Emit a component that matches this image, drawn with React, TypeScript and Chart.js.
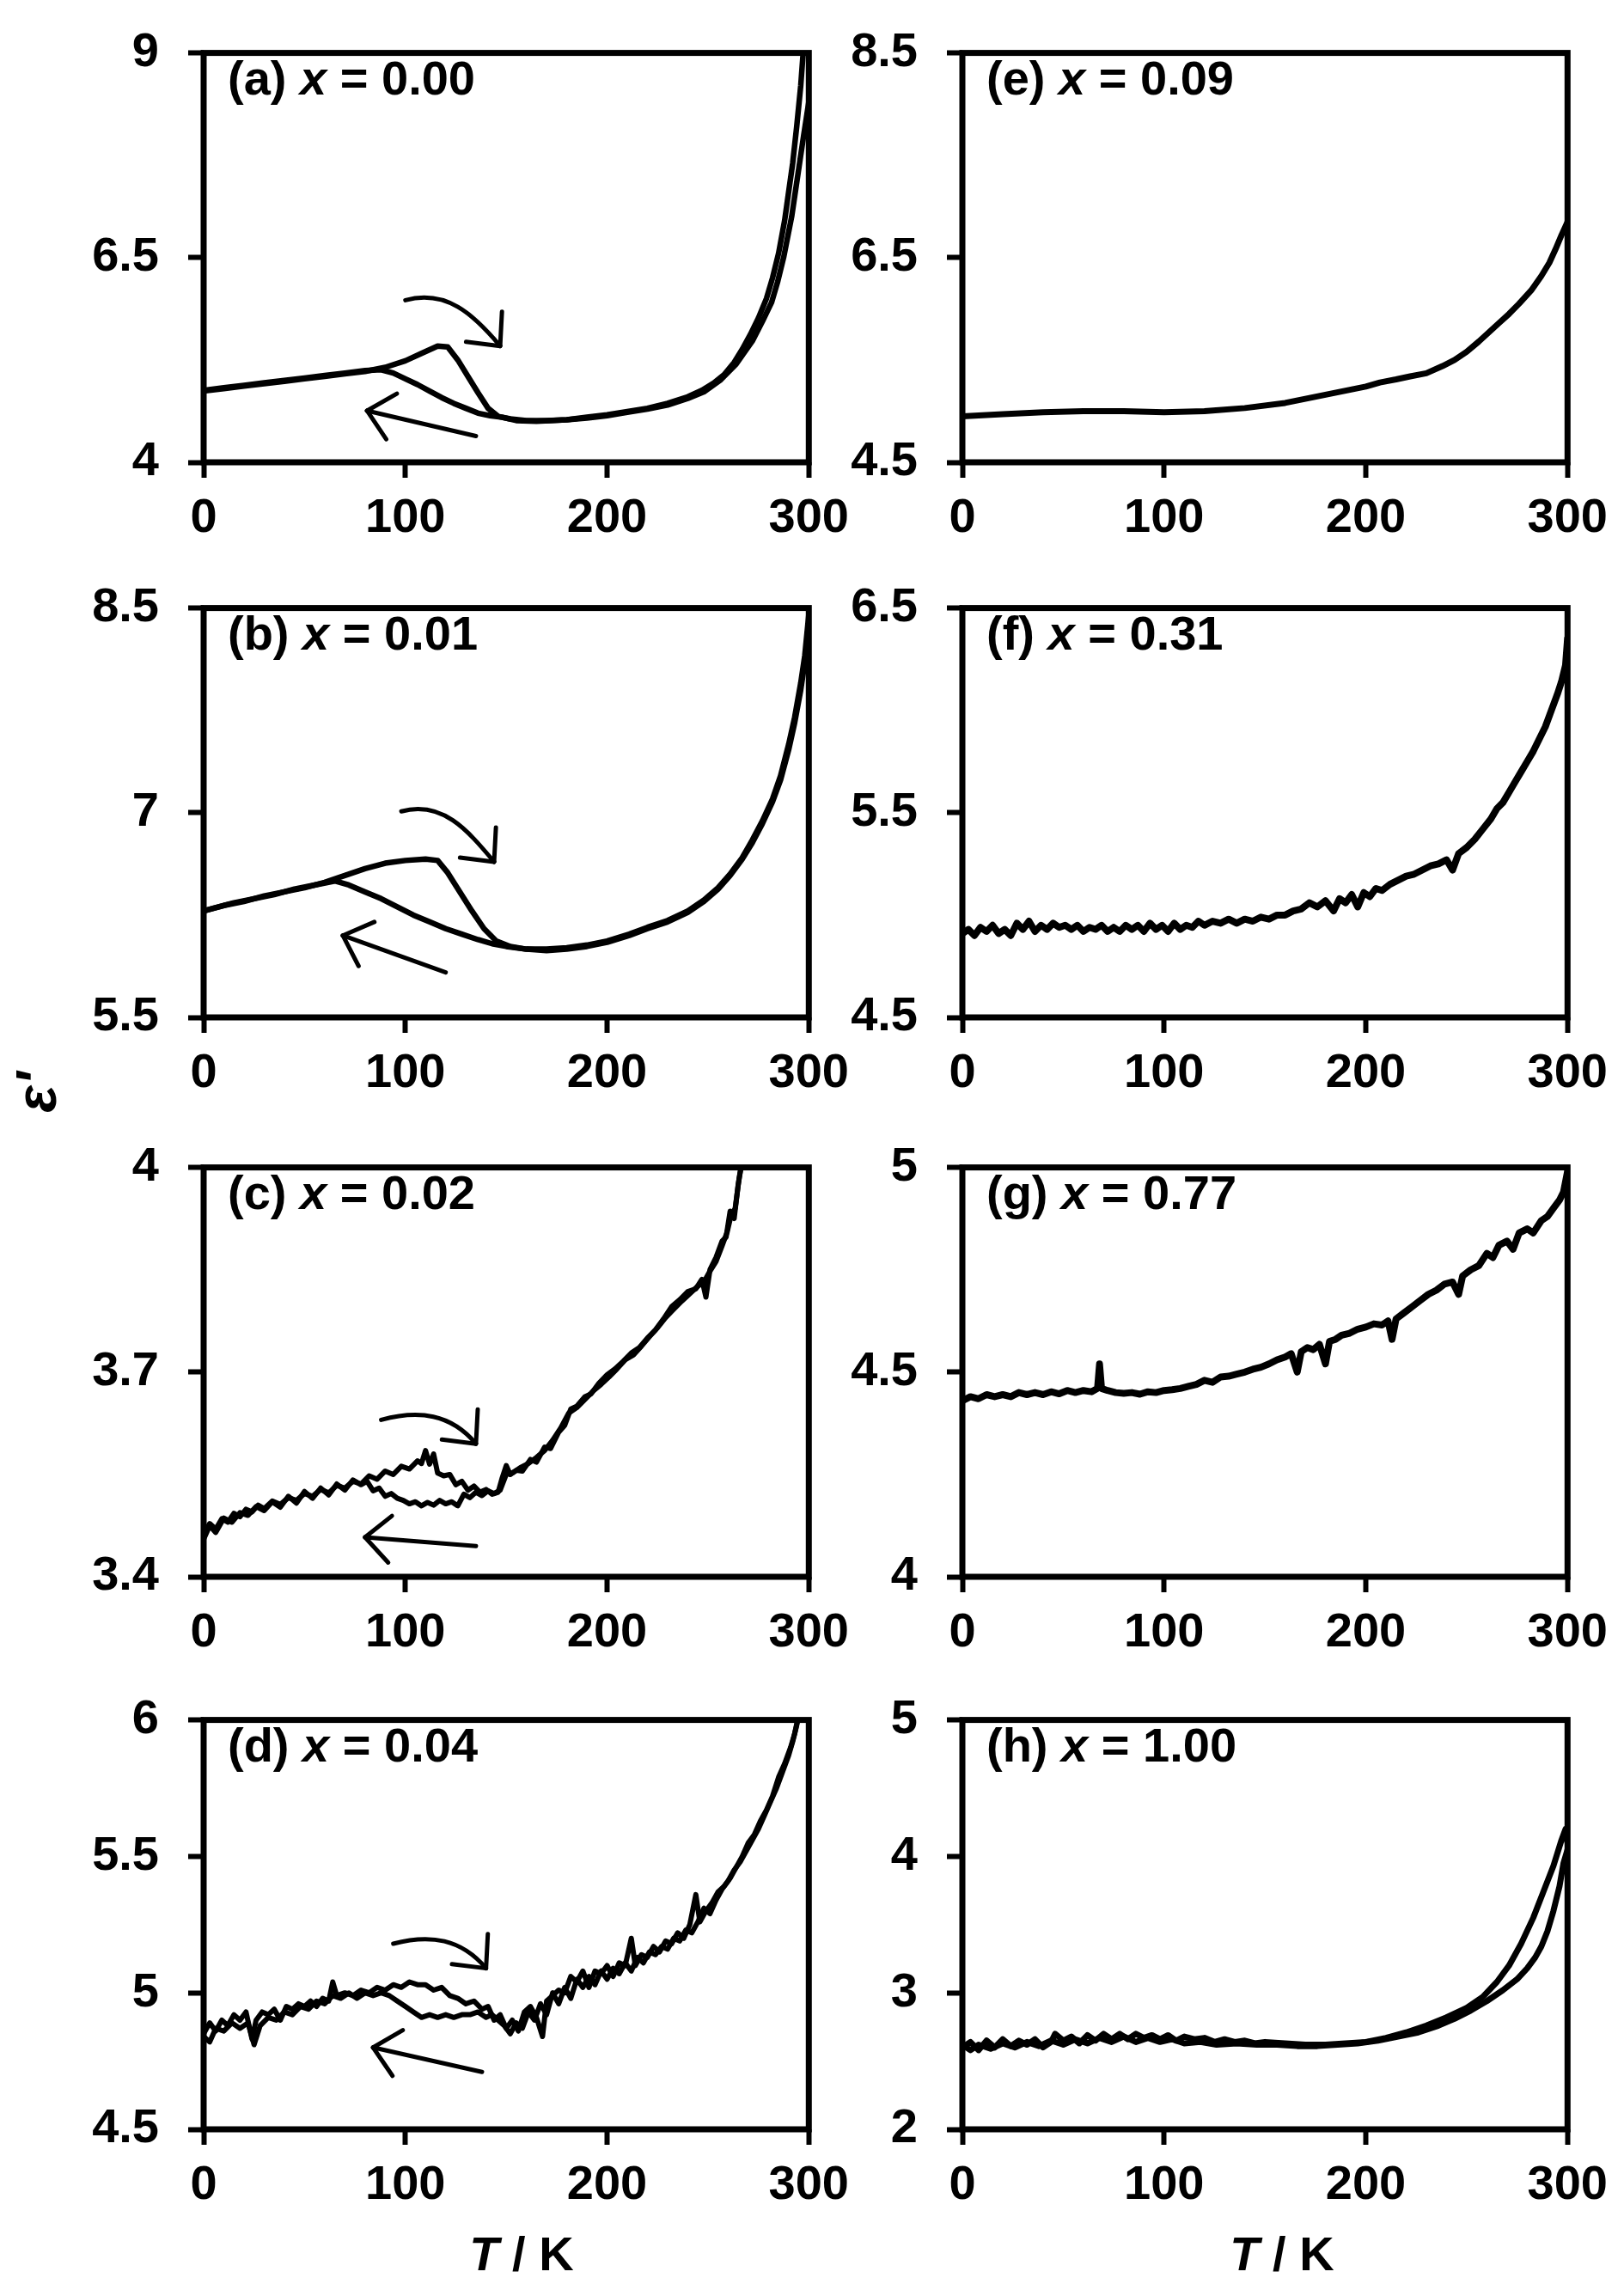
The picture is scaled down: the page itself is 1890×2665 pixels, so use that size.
import React, { useEffect, useRef } from "react";
import { Chart, registerables } from "chart.js";

Chart.register(...registerables);

type Pt = [number, number];

// ---------------- tick labels ----------------
const tempTicks = [0, 100, 200, 300];
const aTicks = [4, 6.5, 9];
const bTicks = [5.5, 7, 8.5];
const cTicks = [3.4, 3.7, 4];
const dTicks = [4.5, 5, 5.5, 6];
const eTicks = [4.5, 6.5, 8.5];
const fTicks = [4.5, 5.5, 6.5];
const gTicks = [4, 4.5, 5];
const hTicks = [2, 3, 4, 5];

// ---------------- series: [T / K, eps'] ----------------
const aHeat: Pt[] = [
  [0, 4.87], [10, 4.9], [20, 4.93], [30, 4.96], [40, 4.99], [50, 5.02], [60, 5.05], [70, 5.08], [80, 5.11],
  [90, 5.16], [100, 5.24], [108, 5.33], [116, 5.42], [121, 5.41], [126, 5.25], [131, 5.05], [136, 4.85],
  [141, 4.66], [146, 4.56], [152, 4.53], [160, 4.51], [170, 4.51], [180, 4.52], [190, 4.55], [200, 4.58],
  [210, 4.62], [220, 4.66], [230, 4.72], [240, 4.8], [247, 4.88], [253, 4.97], [258, 5.07], [263, 5.22],
  [267, 5.38], [271, 5.56], [275, 5.76], [279, 6.0], [282, 6.25], [285, 6.55], [288, 6.95], [290, 7.3],
  [292, 7.65], [294, 8.1], [296, 8.6], [297.5, 9.1],
];
const aCool: Pt[] = [
  [300, 8.4], [297.5, 8.0], [294.5, 7.5], [291.5, 7.0], [287.5, 6.5], [284.5, 6.2], [281.5, 5.95], [277, 5.72],
  [272, 5.48], [264, 5.2], [256, 5.0], [248, 4.86], [240, 4.78], [230, 4.7], [220, 4.65], [210, 4.61],
  [200, 4.57], [190, 4.54], [180, 4.52], [165, 4.5], [155, 4.51], [148, 4.55], [142, 4.57], [136, 4.6],
  [130, 4.66], [124, 4.72], [118, 4.79], [112, 4.87], [106, 4.95], [100, 5.02], [94, 5.09], [88, 5.13],
  [80, 5.12], [70, 5.09], [60, 5.06], [50, 5.03], [40, 5.0], [30, 4.97], [20, 4.94], [10, 4.91], [0, 4.88],
];

const bHeat: Pt[] = [
  [0, 6.28], [10, 6.32], [20, 6.35], [30, 6.39], [40, 6.42], [50, 6.45], [60, 6.49], [70, 6.54], [80, 6.59],
  [90, 6.63], [100, 6.65], [110, 6.66], [116, 6.65], [121, 6.56], [127, 6.42], [133, 6.28], [139, 6.15],
  [145, 6.06], [152, 6.02], [160, 6.0], [170, 5.99], [180, 6.0], [190, 6.02], [200, 6.05], [211, 6.1],
  [220, 6.15], [230, 6.2], [240, 6.27], [248, 6.35], [255, 6.44], [261, 6.54], [267, 6.66], [272, 6.78],
  [277, 6.92], [282, 7.08], [286, 7.24], [290, 7.46], [293, 7.66], [296, 7.9], [298, 8.1], [300, 8.35],
];
const bCool: Pt[] = [
  [300, 8.45], [298, 8.15], [296, 7.95], [293, 7.7], [290, 7.5], [286, 7.27], [282, 7.1], [277, 6.94],
  [272, 6.8], [267, 6.67], [261, 6.55], [255, 6.45], [248, 6.36], [240, 6.28], [230, 6.21], [220, 6.16],
  [211, 6.11], [200, 6.06], [190, 6.03], [180, 6.01], [170, 6.0], [160, 6.0], [150, 6.02], [143, 6.04],
  [136, 6.07], [128, 6.11], [120, 6.15], [112, 6.2], [104, 6.25], [96, 6.31], [88, 6.37], [80, 6.42],
  [72, 6.47], [65, 6.5], [55, 6.47], [45, 6.44], [35, 6.4], [25, 6.37], [15, 6.34], [5, 6.3], [0, 6.28],
];

const cHeat: Pt[] = [
  [0, 3.462], [3, 3.478], [6, 3.47], [9, 3.485], [12, 3.48], [15, 3.493], [18, 3.488], [21, 3.499], [24, 3.495],
  [27, 3.505], [30, 3.5], [34, 3.511], [38, 3.506], [42, 3.516], [46, 3.512], [50, 3.522], [54, 3.518],
  [58, 3.528], [62, 3.523], [66, 3.534], [70, 3.53], [74, 3.54], [78, 3.536], [82, 3.548], [86, 3.543],
  [90, 3.555], [94, 3.55], [98, 3.562], [102, 3.558], [106, 3.57], [108, 3.566], [110, 3.585], [112, 3.565],
  [114, 3.58], [116, 3.552], [119, 3.548], [122, 3.55], [125, 3.535], [128, 3.54], [131, 3.527], [134, 3.533],
  [137, 3.524], [140, 3.528], [143, 3.521], [146, 3.524], [148, 3.545], [150, 3.563], [152, 3.55], [155, 3.556],
  [158, 3.555], [162, 3.572], [165, 3.568], [169, 3.59], [172, 3.588], [176, 3.612], [179, 3.622], [182, 3.646],
  [185, 3.65], [189, 3.664], [192, 3.668], [196, 3.684], [200, 3.696], [204, 3.705], [208, 3.716], [212, 3.728],
  [216, 3.736], [220, 3.75], [224, 3.762], [228, 3.778], [232, 3.796], [236, 3.806], [240, 3.818], [244, 3.822],
  [247, 3.836], [249, 3.81], [251, 3.85], [254, 3.868], [257, 3.892], [259, 3.898], [261, 3.936], [263, 3.925],
  [265, 3.975], [267, 4.01],
];
const cCool: Pt[] = [
  [267.5, 4.02], [265.5, 3.985], [263.5, 3.94], [261.5, 3.93], [259.5, 3.905], [257, 3.885], [254, 3.862],
  [251, 3.848], [248, 3.832], [245, 3.826], [241, 3.815], [237, 3.804], [233, 3.792], [229, 3.78], [225, 3.765],
  [221, 3.752], [217, 3.738], [213, 3.725], [209, 3.718], [205, 3.705], [201, 3.693], [197, 3.682], [193, 3.672],
  [189, 3.66], [185, 3.648], [181, 3.64], [177, 3.618], [173, 3.6], [169, 3.585], [165, 3.575], [161, 3.566],
  [157, 3.56], [153, 3.552], [150, 3.55], [147, 3.527], [144, 3.522], [141, 3.526], [138, 3.519], [135, 3.524],
  [132, 3.516], [129, 3.521], [126, 3.504], [123, 3.51], [120, 3.507], [117, 3.512], [114, 3.505], [111, 3.509],
  [108, 3.504], [105, 3.51], [102, 3.507], [99, 3.512], [96, 3.515], [93, 3.522], [90, 3.518], [87, 3.53],
  [84, 3.526], [81, 3.54], [78, 3.535], [74, 3.542], [70, 3.527], [66, 3.536], [62, 3.52], [58, 3.53],
  [54, 3.515], [50, 3.525], [46, 3.508], [42, 3.518], [38, 3.502], [34, 3.51], [30, 3.497], [26, 3.503],
  [22, 3.49], [18, 3.494], [14, 3.48], [10, 3.486], [6, 3.465], [3, 3.475], [0, 3.455],
];

const dHeat: Pt[] = [
  [0, 4.85], [3, 4.89], [6, 4.86], [9, 4.9], [12, 4.88], [15, 4.92], [18, 4.9], [21, 4.93], [24, 4.83], [26, 4.9],
  [29, 4.93], [32, 4.92], [35, 4.94], [38, 4.9], [41, 4.95], [44, 4.94], [47, 4.96], [50, 4.95], [53, 4.97],
  [56, 4.95], [59, 4.98], [62, 4.97], [64, 5.04], [66, 4.99], [70, 5.0], [74, 4.99], [78, 5.01], [82, 5.0],
  [86, 5.02], [90, 5.01], [94, 5.03], [98, 5.02], [102, 5.04], [106, 5.03], [110, 5.03], [114, 5.01], [118, 5.02],
  [122, 4.99], [126, 4.98], [130, 4.96], [134, 4.97], [138, 4.94], [141, 4.95], [144, 4.9], [147, 4.92],
  [150, 4.87], [153, 4.9], [156, 4.86], [159, 4.93], [162, 4.95], [165, 4.91], [168, 4.84], [170, 4.97],
  [173, 4.99], [176, 5.01], [179, 5.0], [182, 5.06], [185, 5.04], [188, 5.08], [191, 5.02], [194, 5.08],
  [197, 5.07], [200, 5.1], [203, 5.06], [206, 5.11], [209, 5.1], [212, 5.2], [214, 5.1], [217, 5.14], [220, 5.13],
  [223, 5.17], [226, 5.15], [229, 5.19], [232, 5.18], [235, 5.22], [238, 5.2], [241, 5.25], [244, 5.36],
  [246, 5.26], [249, 5.3], [252, 5.33], [255, 5.37], [258, 5.39], [261, 5.42], [264, 5.46], [267, 5.5],
  [270, 5.55], [273, 5.58], [276, 5.63], [279, 5.67], [282, 5.72], [285, 5.79], [288, 5.84], [291, 5.9],
  [293, 5.95], [295, 6.02],
];
const dCool: Pt[] = [
  [296, 6.05], [294, 5.98], [292, 5.92], [290, 5.87], [287, 5.81], [284, 5.75], [281, 5.7], [278, 5.65],
  [275, 5.6], [272, 5.56], [269, 5.52], [266, 5.48], [263, 5.45], [260, 5.41], [257, 5.38], [254, 5.34],
  [251, 5.29], [248, 5.31], [245, 5.26], [242, 5.22], [239, 5.23], [236, 5.19], [233, 5.2], [230, 5.16],
  [227, 5.17], [224, 5.14], [221, 5.15], [218, 5.11], [215, 5.13], [212, 5.08], [209, 5.11], [206, 5.07],
  [203, 5.09], [200, 5.05], [197, 5.08], [194, 5.03], [191, 5.06], [188, 5.02], [185, 5.05], [182, 4.98],
  [179, 5.02], [176, 4.96], [173, 5.0], [170, 4.92], [167, 4.96], [164, 4.9], [161, 4.93], [158, 4.87],
  [155, 4.89], [152, 4.85], [149, 4.88], [146, 4.9], [143, 4.92], [140, 4.91], [136, 4.93], [132, 4.92],
  [128, 4.92], [124, 4.91], [120, 4.92], [116, 4.91], [112, 4.92], [108, 4.91], [104, 4.93], [100, 4.95],
  [96, 4.97], [92, 4.99], [88, 5.0], [84, 4.99], [80, 5.0], [76, 4.98], [72, 5.0], [68, 4.98], [64, 4.99],
  [60, 4.96], [56, 4.97], [52, 4.94], [48, 4.95], [44, 4.92], [40, 4.93], [36, 4.9], [32, 4.91], [28, 4.88],
  [25, 4.81], [22, 4.89], [18, 4.87], [14, 4.89], [10, 4.86], [6, 4.87], [3, 4.82], [0, 4.84],
];

const eRun: Pt[] = [
  [0, 4.95], [20, 4.97], [40, 4.99], [60, 5.0], [80, 5.0], [100, 4.99], [120, 5.0], [140, 5.03], [160, 5.08],
  [180, 5.16], [200, 5.24], [207, 5.28], [215, 5.31], [222, 5.34], [230, 5.37], [238, 5.44], [244, 5.5],
  [250, 5.58], [256, 5.68], [261, 5.77], [266, 5.86], [271, 5.95], [276, 6.05], [282, 6.18], [287, 6.32],
  [291, 6.45], [294, 6.58], [297, 6.72], [300, 6.85],
];

const fRun: Pt[] = [
  [0, 4.91], [3, 4.93], [6, 4.9], [9, 4.94], [12, 4.92], [15, 4.95], [18, 4.91], [21, 4.93], [24, 4.9], [27, 4.96],
  [30, 4.93], [33, 4.97], [36, 4.92], [39, 4.95], [42, 4.93], [45, 4.96], [48, 4.94], [51, 4.95], [54, 4.93],
  [57, 4.95], [60, 4.92], [63, 4.94], [66, 4.93], [69, 4.95], [72, 4.92], [75, 4.94], [78, 4.92], [81, 4.95],
  [84, 4.93], [87, 4.95], [90, 4.92], [93, 4.96], [96, 4.93], [99, 4.95], [102, 4.92], [105, 4.96], [108, 4.93],
  [111, 4.95], [114, 4.94], [117, 4.97], [120, 4.95], [124, 4.97], [128, 4.96], [132, 4.98], [136, 4.96],
  [140, 4.98], [144, 4.97], [148, 4.99], [152, 4.98], [156, 5.0], [160, 5.0], [164, 5.02], [168, 5.03],
  [172, 5.06], [176, 5.04], [180, 5.07], [184, 5.02], [187, 5.08], [190, 5.06], [193, 5.1], [196, 5.04],
  [199, 5.11], [202, 5.09], [205, 5.13], [208, 5.12], [212, 5.15], [216, 5.17], [220, 5.19], [224, 5.2],
  [228, 5.22], [232, 5.24], [236, 5.25], [240, 5.27], [243, 5.22], [246, 5.3], [250, 5.33], [254, 5.37],
  [258, 5.42], [262, 5.47], [265, 5.52], [268, 5.55], [271, 5.6], [274, 5.65], [277, 5.7], [280, 5.75],
  [283, 5.8], [286, 5.86], [289, 5.92], [292, 6.0], [295, 6.08], [297, 6.14], [299, 6.22], [300, 6.35],
];

const gRun: Pt[] = [
  [0, 4.43], [4, 4.44], [8, 4.435], [12, 4.445], [16, 4.44], [20, 4.445], [24, 4.44], [28, 4.45], [32, 4.445],
  [36, 4.45], [40, 4.445], [44, 4.452], [48, 4.447], [52, 4.455], [56, 4.45], [60, 4.455], [64, 4.452],
  [67, 4.46], [68, 4.52], [69, 4.46], [72, 4.455], [76, 4.45], [80, 4.448], [84, 4.45], [88, 4.446],
  [92, 4.452], [96, 4.45], [100, 4.455], [104, 4.457], [108, 4.46], [112, 4.465], [116, 4.47], [120, 4.48],
  [124, 4.475], [128, 4.488], [132, 4.49], [136, 4.495], [140, 4.5], [144, 4.507], [148, 4.512], [152, 4.52],
  [156, 4.53], [160, 4.537], [163, 4.545], [166, 4.5], [168, 4.55], [171, 4.56], [174, 4.555], [177, 4.568],
  [180, 4.52], [182, 4.575], [185, 4.58], [188, 4.59], [192, 4.595], [196, 4.605], [200, 4.61], [204, 4.618],
  [208, 4.615], [211, 4.625], [213, 4.58], [215, 4.63], [219, 4.645], [223, 4.66], [227, 4.675], [231, 4.69],
  [235, 4.7], [239, 4.715], [243, 4.72], [246, 4.69], [248, 4.735], [252, 4.75], [256, 4.76], [260, 4.79],
  [263, 4.78], [266, 4.81], [270, 4.82], [273, 4.8], [276, 4.84], [280, 4.85], [283, 4.84], [287, 4.87],
  [290, 4.88], [293, 4.9], [296, 4.92], [298, 4.94], [300, 4.99],
];

const hHeat: Pt[] = [
  [0, 2.6], [4, 2.64], [8, 2.58], [12, 2.65], [16, 2.6], [20, 2.66], [24, 2.61], [28, 2.65], [32, 2.62],
  [36, 2.66], [40, 2.6], [44, 2.64], [46, 2.7], [50, 2.65], [54, 2.68], [58, 2.63], [62, 2.69], [66, 2.65],
  [70, 2.7], [74, 2.66], [78, 2.7], [82, 2.66], [86, 2.7], [90, 2.67], [94, 2.69], [98, 2.66], [102, 2.69],
  [106, 2.65], [110, 2.68], [115, 2.66], [120, 2.67], [125, 2.64], [130, 2.66], [135, 2.64], [140, 2.65],
  [145, 2.63], [150, 2.64], [160, 2.63], [170, 2.62], [180, 2.62], [190, 2.63], [200, 2.64], [210, 2.67],
  [220, 2.71], [230, 2.76], [240, 2.82], [250, 2.89], [258, 2.97], [265, 3.08], [271, 3.2], [277, 3.36],
  [283, 3.55], [288, 3.74], [293, 3.93], [297, 4.12], [299, 4.2], [300, 4.1],
];
const hCool: Pt[] = [
  [300, 4.05], [298, 3.95], [296, 3.78], [293, 3.6], [290, 3.45], [287, 3.34], [284, 3.26], [280, 3.18],
  [275, 3.1], [268, 3.02], [260, 2.94], [252, 2.87], [244, 2.81], [236, 2.76], [226, 2.71], [216, 2.68],
  [206, 2.65], [196, 2.63], [186, 2.62], [176, 2.61], [166, 2.61], [156, 2.62], [146, 2.62], [136, 2.63],
  [126, 2.62], [118, 2.64], [110, 2.63], [104, 2.66], [98, 2.64], [92, 2.67], [86, 2.64], [80, 2.68],
  [74, 2.64], [68, 2.67], [62, 2.63], [56, 2.66], [50, 2.62], [44, 2.65], [38, 2.61], [32, 2.64], [26, 2.6],
  [20, 2.63], [14, 2.59], [8, 2.62], [4, 2.58], [0, 2.62],
];

// ---------------- hysteresis arrows: [from, to] in data units ----------------
const aTurnArrow: Pt[] = [[100, 5.98], [147, 5.42]];
const aBackArrow: Pt[] = [[135, 4.32], [81, 4.63]];
const bTurnArrow: Pt[] = [[98, 7.01], [144, 6.64]];
const bBackArrow: Pt[] = [[120, 5.83], [69, 6.1]];
const cTurnArrow: Pt[] = [[88, 3.63], [135, 3.595]];
const cBackArrow: Pt[] = [[135, 3.445], [80, 3.458]];
const dTurnArrow: Pt[] = [[94, 5.18], [140, 5.09]];
const dBackArrow: Pt[] = [[138, 4.71], [84, 4.8]];

// ---------------- layout ----------------
const FONT = "'Liberation Sans', Arial, Helvetica, sans-serif";
const FONT_SIZE = 56;
const COL_LEFT = [237, 1120];
const ROW_TOP = [34, 680, 1331, 1974];
const PLOT_W = 705;
const PLOT_H = 504;
const AX_W = 150;
const PAD_T = 40;
const PAD_R = 60;
const AX_H = 130;
const CW = AX_W + PLOT_W + PAD_R;
const CH = PAD_T + PLOT_H + AX_H;

interface PanelSpec {
  tag: string;
  xval: string;
  col: number;
  row: number;
  yMin: number;
  yMax: number;
  yTicks: number[];
  series: Pt[][];
  lw: number;
  turn?: Pt[];
  back?: Pt[];
}

const panels: PanelSpec[] = [
  { tag: "(a)", xval: "0.00", col: 0, row: 0, yMin: 4, yMax: 9, yTicks: aTicks, series: [aHeat, aCool], lw: 6.5, turn: aTurnArrow, back: aBackArrow },
  { tag: "(b)", xval: "0.01", col: 0, row: 1, yMin: 5.5, yMax: 8.5, yTicks: bTicks, series: [bHeat, bCool], lw: 6.5, turn: bTurnArrow, back: bBackArrow },
  { tag: "(c)", xval: "0.02", col: 0, row: 2, yMin: 3.4, yMax: 4, yTicks: cTicks, series: [cHeat, cCool], lw: 6, turn: cTurnArrow, back: cBackArrow },
  { tag: "(d)", xval: "0.04", col: 0, row: 3, yMin: 4.5, yMax: 6, yTicks: dTicks, series: [dHeat, dCool], lw: 6, turn: dTurnArrow, back: dBackArrow },
  { tag: "(e)", xval: "0.09", col: 1, row: 0, yMin: 4.5, yMax: 8.5, yTicks: eTicks, series: [eRun], lw: 7 },
  { tag: "(f)", xval: "0.31", col: 1, row: 1, yMin: 4.5, yMax: 6.5, yTicks: fTicks, series: [fRun], lw: 8 },
  { tag: "(g)", xval: "0.77", col: 1, row: 2, yMin: 4, yMax: 5, yTicks: gTicks, series: [gRun], lw: 8 },
  { tag: "(h)", xval: "1.00", col: 1, row: 3, yMin: 2, yMax: 5, yTicks: hTicks, series: [hHeat, hCool], lw: 7 },
];

const framePlugin = {
  id: "frame",
  afterDatasetsDraw(chart: any) {
    const { ctx, chartArea } = chart;
    ctx.save();
    ctx.strokeStyle = "#000";
    ctx.lineWidth = 7;
    ctx.strokeRect(chartArea.left, chartArea.top, chartArea.right - chartArea.left, chartArea.bottom - chartArea.top);
    ctx.restore();
  },
};

function drawHead(ctx: CanvasRenderingContext2D, x: number, y: number, ang: number, len: number) {
  for (const s of [-1, 1]) {
    const a = ang + Math.PI + s * 0.75;
    ctx.beginPath();
    ctx.moveTo(x, y);
    ctx.lineTo(x + len * Math.cos(a), y + len * Math.sin(a));
    ctx.stroke();
  }
}

function makeArrowPlugin(p: PanelSpec) {
  return {
    id: "hysteresisArrows",
    afterDatasetsDraw(chart: any) {
      if (!p.turn && !p.back) return;
      const xs = chart.scales.x;
      const ys = chart.scales.y;
      const px = (q: Pt) => [xs.getPixelForValue(q[0]), ys.getPixelForValue(q[1])];
      const ctx: CanvasRenderingContext2D = chart.ctx;
      ctx.save();
      ctx.strokeStyle = "#000";
      ctx.lineWidth = 5;
      ctx.lineCap = "round";
      ctx.lineJoin = "round";
      if (p.turn) {
        const [sx, sy] = px(p.turn[0]);
        const [ex, ey] = px(p.turn[1]);
        const L = Math.hypot(ex - sx, ey - sy);
        const a0 = (-15 * Math.PI) / 180;
        const a1 = (50 * Math.PI) / 180;
        ctx.beginPath();
        ctx.moveTo(sx, sy);
        ctx.bezierCurveTo(
          sx + 0.4 * L * Math.cos(a0), sy + 0.4 * L * Math.sin(a0),
          ex - 0.4 * L * Math.cos(a1), ey - 0.4 * L * Math.sin(a1),
          ex, ey
        );
        ctx.stroke();
        drawHead(ctx, ex, ey, a1, 40);
      }
      if (p.back) {
        const [tx, ty] = px(p.back[0]);
        const [hx, hy] = px(p.back[1]);
        ctx.beginPath();
        ctx.moveTo(tx, ty);
        ctx.lineTo(hx, hy);
        ctx.stroke();
        drawHead(ctx, hx, hy, Math.atan2(hy - ty, hx - tx), 40);
      }
      ctx.restore();
    },
  };
}

function Panel({ p }: { p: PanelSpec }) {
  const ref = useRef<HTMLCanvasElement | null>(null);
  useEffect(() => {
    if (!ref.current) return;
    const tickFont = { family: FONT, size: FONT_SIZE, weight: "bold" as const };
    const chart = new Chart(ref.current, {
      type: "line",
      data: {
        datasets: p.series.map((s) => ({
          data: s.map(([x, y]) => ({ x, y })),
          borderColor: "#000",
          borderWidth: p.lw,
          pointRadius: 0,
          tension: 0,
          fill: false,
          borderJoinStyle: "round" as const,
          borderCapStyle: "round" as const,
        })),
      },
      options: {
        animation: false,
        responsive: false,
        maintainAspectRatio: false,
        events: [],
        layout: { padding: { top: PAD_T, right: PAD_R, left: 0, bottom: 0 } },
        plugins: { legend: { display: false }, tooltip: { enabled: false }, title: { display: false } },
        scales: {
          x: {
            type: "linear",
            min: 0,
            max: 300,
            afterBuildTicks: (ax: any) => {
              ax.ticks = tempTicks.map((v) => ({ value: v }));
            },
            afterFit: (ax: any) => {
              ax.height = AX_H;
            },
            border: { display: false },
            grid: { drawOnChartArea: false, drawTicks: true, tickLength: 18, tickWidth: 6, tickColor: "#000", color: "#000" },
            ticks: { font: tickFont, color: "#000", padding: 14, maxRotation: 0, minRotation: 0, autoSkip: false, callback: (v: any) => String(v) },
          },
          y: {
            type: "linear",
            min: p.yMin,
            max: p.yMax,
            afterBuildTicks: (ax: any) => {
              ax.ticks = p.yTicks.map((v) => ({ value: v }));
            },
            afterFit: (ax: any) => {
              ax.width = AX_W;
            },
            border: { display: false },
            grid: { drawOnChartArea: false, drawTicks: true, tickLength: 18, tickWidth: 6, tickColor: "#000", color: "#000" },
            ticks: { font: tickFont, color: "#000", padding: 34, autoSkip: false, callback: (v: any) => String(v) },
          },
        },
      },
      plugins: [framePlugin, makeArrowPlugin(p)],
    } as any);
    return () => chart.destroy();
  }, [p]);

  const left = COL_LEFT[p.col];
  const top = ROW_TOP[p.row];
  return (
    <>
      <canvas
        ref={ref}
        width={CW}
        height={CH}
        style={{ position: "absolute", left: left - AX_W, top: top - PAD_T, width: CW, height: CH }}
      />
      <div
        style={{
          position: "absolute",
          left: left + 28,
          top: top + 29,
          fontFamily: FONT,
          fontSize: FONT_SIZE,
          fontWeight: "bold",
          lineHeight: 1,
          whiteSpace: "nowrap",
          color: "#000",
        }}
      >
        {p.tag} <i>x</i> = {p.xval}
      </div>
    </>
  );
}

const labelStyle: React.CSSProperties = {
  position: "absolute",
  fontFamily: FONT,
  fontSize: FONT_SIZE,
  fontWeight: "bold",
  lineHeight: 1,
  whiteSpace: "nowrap",
  color: "#000",
};

export default function App() {
  return (
    <div style={{ position: "absolute", left: 0, top: 0, width: 1890, height: 2665, background: "#fff", overflow: "hidden" }}>
      {panels.map((p) => (
        <Panel key={p.tag} p={p} />
      ))}
      <div
        style={{
          ...labelStyle,
          left: 42,
          top: 1271,
          fontSize: 66,
          fontStyle: "italic",
          transform: "translate(-50%, -50%) rotate(-90deg)",
        }}
      >
        ε'
      </div>
      <div style={{ ...labelStyle, left: 607, top: 2595, transform: "translateX(-50%)" }}>
        <i>T</i> / K
      </div>
      <div style={{ ...labelStyle, left: 1492, top: 2595, transform: "translateX(-50%)" }}>
        <i>T</i> / K
      </div>
    </div>
  );
}
